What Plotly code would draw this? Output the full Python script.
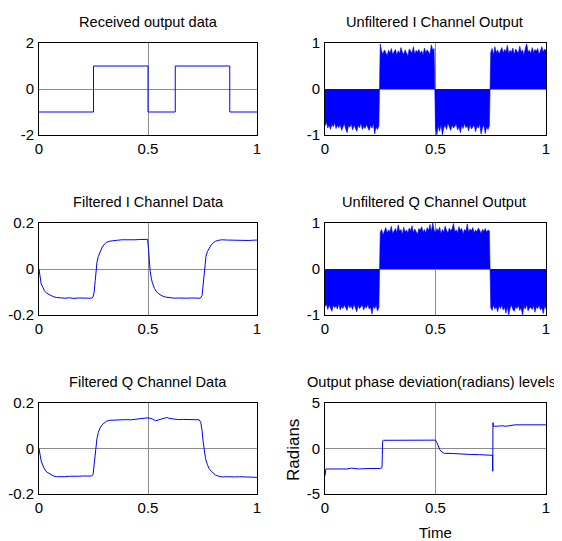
import numpy as np
import plotly.graph_objects as go

# ---------------- data ----------------
# Received output data (step signal)
rx_x = [0, 0.25, 0.25, 0.5, 0.5, 0.625, 0.625, 0.875, 0.875, 1.0]
rx_y = [-1, -1, 1, 1, -1, -1, 1, 1, -1, -1]

# Unfiltered I channel envelope (161 samples on 0..1)
ui_seg1 = [-0.80, -0.72, -0.85, -0.78, -0.88, -0.76, -0.82, -0.74, -0.86, -0.79,
           -0.84, -0.77, -0.90, -0.81, -0.75, -0.87, -0.95, -0.80, -0.83, -0.76,
           -0.89, -0.78, -0.85, -0.92, -0.79, -0.84, -0.74, -0.88, -0.81, -0.86,
           -0.77, -0.83, -0.90, -0.79, -0.85, -0.75, -0.98, -0.82, -0.88, -0.80]
ui_seg2 = [0.98, 0.82, 0.76, 0.85, 0.79, 0.73, 0.84, 0.78, 0.88, 0.75,
           0.81, 0.86, 0.74, 0.83, 0.77, 0.90, 0.80, 0.76, 0.85, 0.79,
           0.72, 0.87, 0.81, 0.78, 0.92, 0.75, 0.84, 0.80, 0.86, 0.77,
           0.83, 0.74, 0.89, 0.79, 0.85, 0.81, 0.76, 0.96, 0.84, 0.88]
ui_seg3 = [-0.86, -1.00, -0.80, -0.92, -0.77, -1.00, -0.84, -0.79, -0.88, -0.74,
           -0.83, -0.90, -0.78, -0.85, -0.81, -0.76, -0.89, -0.82, -0.95, -0.79,
           -0.86, -0.75, -0.84, -0.80, -0.91, -0.77, -0.87, -0.83, -0.78, -0.93,
           -0.81, -0.85, -0.76, -0.98, -0.84, -0.79, -0.97, -0.82, -0.88, -0.80]
ui_seg4 = [0.80, 0.88, 0.74, 0.92, 0.79, 0.85, 0.76, 0.83, 0.90, 0.78,
           0.86, 0.81, 0.95, 0.77, 0.84, 0.80, 0.89, 0.75, 0.87, 0.82,
           0.78, 0.93, 0.80, 0.85, 0.74, 0.88, 0.98, 0.81, 0.84, 0.77,
           0.90, 0.79, 0.86, 0.82, 0.88, 0.75, 0.85, 0.92, 0.80, 0.87, 0.83]

# Unfiltered Q channel envelope (161 samples on 0..1)
uq_seg1 = [-0.82, -0.76, -0.88, -0.79, -0.85, -0.92, -0.78, -0.84, -0.80, -0.87,
           -0.75, -0.89, -0.81, -0.86, -0.78, -0.83, -0.90, -0.77, -0.85, -0.80,
           -0.88, -0.76, -0.84, -0.93, -0.79, -0.86, -0.82, -0.78, -0.89, -0.81,
           -0.85, -0.77, -0.87, -0.83, -0.98, -0.80, -0.86, -0.79, -0.91, -0.84]
uq_seg2 = [0.80, 0.86, 0.74, 0.83, 0.90, 0.78, 0.85, 0.81, 0.93, 0.77,
           0.84, 0.88, 0.79, 0.96, 0.82, 0.86, 0.75, 0.91, 0.80, 0.85,
           0.78, 0.89, 0.83, 0.94, 0.79, 0.87, 0.81, 0.76, 0.88, 0.84,
           0.92, 0.80, 0.86, 0.78, 0.90, 0.83, 0.97, 0.81, 1.00, 0.85,
           0.79, 0.88, 0.82, 0.91, 0.77, 0.86, 0.80, 0.93, 0.84, 0.78,
           0.89, 0.83, 0.87, 0.99, 0.81, 0.85, 0.79, 0.92, 0.84, 0.88,
           0.76, 0.86, 0.82, 0.98, 0.80, 0.87, 0.83, 0.90, 0.78, 0.85,
           0.81, 0.89, 0.84, 0.77, 0.86, 0.82, 0.88, 0.80, 0.85, 0.83]
uq_seg3 = [-0.84, -0.90, -0.78, -0.87, -0.82, -0.93, -0.80, -0.86, -0.79, -0.89,
           -0.83, -0.96, -0.81, -1.00, -0.85, -0.78, -0.88, -0.92, -0.82, -0.86,
           -0.79, -0.90, -0.84, -1.00, -0.81, -0.87, -0.77, -0.91, -0.85, -0.83,
           -0.88, -0.80, -0.94, -0.82, -0.86, -0.79, -0.89, -0.84, -0.97, -0.81, -0.87]

# Filtered I channel data
fi_x = [0, 0.005, 0.01, 0.018, 0.025, 0.035, 0.05, 0.065, 0.08, 0.10, 0.12, 0.14, 0.16,
        0.18, 0.20, 0.22, 0.24, 0.248, 0.253, 0.258, 0.262, 0.266, 0.272, 0.28, 0.29,
        0.30, 0.31, 0.325, 0.34, 0.36, 0.38, 0.40, 0.42, 0.44, 0.46, 0.48, 0.498, 0.502,
        0.506, 0.51, 0.515, 0.52, 0.53, 0.54, 0.55, 0.565, 0.58, 0.60, 0.62, 0.64, 0.66,
        0.68, 0.70, 0.72, 0.74, 0.748, 0.753, 0.758, 0.762, 0.766, 0.772, 0.78, 0.79,
        0.80, 0.81, 0.825, 0.84, 0.86, 0.88, 0.90, 0.92, 0.94, 0.96, 0.98, 1.0]
fi_y = [0.0, -0.04, -0.065, -0.08, -0.095, -0.105, -0.113, -0.12, -0.124, -0.126, -0.127,
        -0.125, -0.128, -0.126, -0.127, -0.125, -0.127, -0.122, -0.10, -0.05, -0.005,
        0.03, 0.055, 0.075, 0.095, 0.108, 0.116, 0.121, 0.124, 0.125, 0.127, 0.126,
        0.128, 0.127, 0.128, 0.127, 0.129, 0.09, 0.03, -0.01, -0.04, -0.06, -0.085,
        -0.10, -0.108, -0.117, -0.122, -0.125, -0.127, -0.126, -0.128, -0.127, -0.126,
        -0.128, -0.127, -0.115, -0.07, -0.01, 0.03, 0.055, 0.075, 0.09, 0.105, 0.115,
        0.121, 0.125, 0.127, 0.126, 0.125, 0.127, 0.124, 0.122, 0.124, 0.125, 0.126]

# Filtered Q channel data
fq_x = [0, 0.005, 0.01, 0.018, 0.025, 0.035, 0.05, 0.065, 0.08, 0.10, 0.12, 0.14, 0.16,
        0.18, 0.20, 0.22, 0.24, 0.248, 0.253, 0.258, 0.262, 0.266, 0.272, 0.28, 0.29,
        0.30, 0.31, 0.325, 0.34, 0.36, 0.38, 0.40, 0.42, 0.44, 0.46, 0.48, 0.50, 0.52,
        0.535, 0.55, 0.57, 0.585, 0.60, 0.62, 0.64, 0.66, 0.68, 0.70, 0.72, 0.735, 0.742,
        0.748, 0.753, 0.758, 0.764, 0.772, 0.78, 0.79, 0.80, 0.81, 0.825, 0.84, 0.86,
        0.88, 0.90, 0.92, 0.94, 0.96, 0.98, 1.0]
fq_y = [0.0, -0.035, -0.055, -0.075, -0.09, -0.103, -0.113, -0.12, -0.124, -0.125, -0.124,
        -0.122, -0.123, -0.122, -0.121, -0.120, -0.121, -0.115, -0.07, -0.02, 0.02, 0.045,
        0.07, 0.09, 0.105, 0.114, 0.12, 0.124, 0.125, 0.126, 0.125, 0.127, 0.126, 0.128,
        0.130, 0.131, 0.135, 0.130, 0.122, 0.126, 0.133, 0.136, 0.132, 0.128, 0.127,
        0.128, 0.127, 0.128, 0.127, 0.126, 0.115, 0.08, 0.03, -0.01, -0.045, -0.07,
        -0.088, -0.10, -0.11, -0.117, -0.122, -0.125, -0.124, -0.126, -0.125, -0.124,
        -0.125, -0.124, -0.125, -0.127]

# Output phase deviation (radians)
ph_x = [0, 0.004, 0.01, 0.05, 0.10, 0.12, 0.15, 0.20, 0.25, 0.258, 0.261, 0.265, 0.30,
        0.35, 0.40, 0.45, 0.48, 0.50, 0.505, 0.51, 0.515, 0.52, 0.53, 0.54, 0.58, 0.62,
        0.66, 0.70, 0.75, 0.758, 0.759, 0.760, 0.762, 0.78, 0.80, 0.82, 0.84, 0.86, 0.90,
        0.95, 1.0]
ph_y = [-3.0, -2.25, -2.25, -2.25, -2.25, -2.15, -2.25, -2.2, -2.2, -2.1, 0.85, 0.9, 0.9,
        0.9, 0.95, 0.9, 0.95, 0.92, 0.7, 0.45, 0.15, -0.15, -0.4, -0.53, -0.55, -0.63,
        -0.66, -0.68, -0.72, -0.75, -2.5, 2.85, 2.45, 2.45, 2.5, 2.45, 2.55, 2.6, 2.6,
        2.6, 2.6]

titles = ["Received output data", "Unfiltered I Channel Output",
          "Filtered I Channel Data", "Unfiltered Q Channel Output",
          "Filtered Q Channel Data", "Output phase deviation(radians) levels"]
x_ticks = [0, 0.5, 1]
x_ticktext = ["0", "0.5", "1"]
y_specs = [([-2, 0, 2], ["-2", "0", "2"]),
           ([-1, 0, 1], ["-1", "0", "1"]),
           ([-0.2, 0, 0.2], ["-0.2", "0", "0.2"]),
           ([-1, 0, 1], ["-1", "0", "1"]),
           ([-0.2, 0, 0.2], ["-0.2", "0", "0.2"]),
           ([-5, 0, 5], ["-5", "0", "5"])]

# ---------------- figure ----------------
W, H = 562, 541
OFF = 8  # page body margin that offsets the figure in the window
FONT = "Liberation Sans, Arial, sans-serif"
BLUE = "#0000ff"

col_px = [(39, 257), (325, 546)]
row_px = [(43, 135), (223, 315), (403, 494)]
title_cx = [148, 434, 148, 434, 148, 431]


def px(v):
    return (v - OFF) / W


def py(v):
    return 1 - (v - OFF) / H


t_env = np.linspace(0, 1, 161)
ui_env = ui_seg1 + ui_seg2 + ui_seg3 + ui_seg4
uq_env = uq_seg1 + uq_seg2 + uq_seg3

series = [
    dict(x=rx_x, y=rx_y, fill=None),
    dict(x=t_env, y=ui_env, fill="tozeroy"),
    dict(x=fi_x, y=fi_y, fill=None),
    dict(x=t_env, y=uq_env, fill="tozeroy"),
    dict(x=fq_x, y=fq_y, fill=None),
    dict(x=ph_x, y=ph_y, fill=None),
]

fig = go.Figure()
layout = dict(width=W, height=H, autosize=False, margin=dict(l=0, r=0, t=0, b=0, pad=0),
              paper_bgcolor="white", plot_bgcolor="white", showlegend=False,
              font=dict(family=FONT, size=15, color="black"))
annotations = []

for i in range(6):
    r, c = divmod(i, 2)
    n = i + 1
    xa = "xaxis" if n == 1 else f"xaxis{n}"
    ya = "yaxis" if n == 1 else f"yaxis{n}"
    xref = "x" if n == 1 else f"x{n}"
    yref = "y" if n == 1 else f"y{n}"
    x0, x1 = col_px[c]
    y0, y1 = row_px[r]
    xdom = [px(x0), px(x1)]
    ydom = [py(y1), py(y0)]
    yv, yt = y_specs[i]
    common = dict(showline=True, linecolor="black", linewidth=1, mirror=True,
                  showgrid=True, gridcolor="#8c8c8c", gridwidth=1, zeroline=False,
                  automargin=False, ticks="",
                  tickfont=dict(family=FONT, size=15, color="black"))
    layout[xa] = dict(domain=xdom, range=[0, 1], anchor=yref, tickmode="array",
                      tickvals=x_ticks, ticktext=x_ticktext, **common)
    layout[ya] = dict(domain=ydom, range=[yv[0], yv[-1]], anchor=xref, tickmode="array",
                      tickvals=yv, ticktext=yt, ticklabelstandoff=1, **common)
    s = series[i]
    tr = dict(x=s["x"], y=s["y"], mode="lines", xaxis=xref, yaxis=yref,
              line=dict(color=BLUE, width=1 if s["fill"] is None else 0.6))
    if s["fill"]:
        tr["fill"] = "tozeroy"
        tr["fillcolor"] = BLUE
    fig.add_trace(go.Scatter(**tr))
    annotations.append(dict(text=titles[i], x=px(title_cx[i]), y=py(y0 - 21),
                            xref="paper", yref="paper", showarrow=False,
                            xanchor="center", yanchor="middle",
                            font=dict(family=FONT, size=14.6, color="black")))

annotations.append(dict(text="Time", x=px((325 + 546) / 2), y=py(532),
                        xref="paper", yref="paper", showarrow=False,
                        xanchor="center", yanchor="middle",
                        font=dict(family=FONT, size=15, color="black")))
annotations.append(dict(text="Radians", x=px(293), y=py(450),
                        xref="paper", yref="paper", showarrow=False, textangle=-90,
                        xanchor="center", yanchor="middle",
                        font=dict(family=FONT, size=17, color="black")))
layout["annotations"] = annotations
fig.update_layout(**layout)
fig.write_html("out.html")
